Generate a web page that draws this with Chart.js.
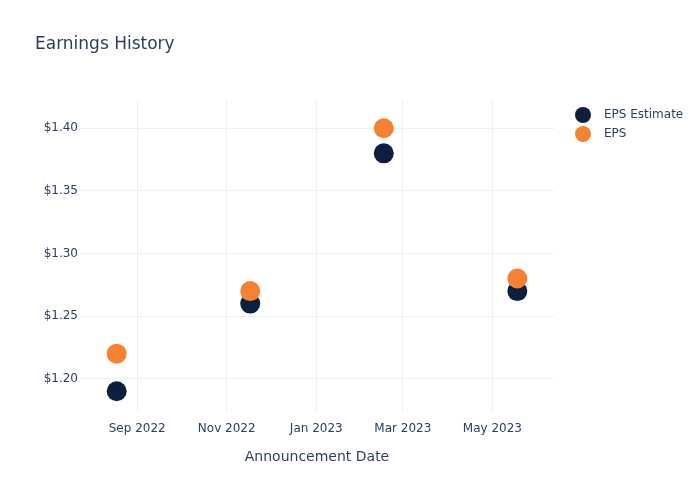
<!DOCTYPE html>
<html>
<head>
<meta charset="utf-8">
<title>Earnings History</title>
<script src="https://cdn.jsdelivr.net/npm/chart.js@4.4.1/dist/chart.umd.min.js"></script>
<style>
    body { margin: 0; background: #fff; }
    #wrap { width: 700px; height: 500px; }
</style>
</head>
<body>
<div id="wrap"><canvas id="earningsChart" width="700" height="500"></canvas></div>
<script>
// --- Données ---
const announceDates = ["2022-08-18", "2022-11-17", "2023-02-16", "2023-05-18"];
const epsEstimate = [1.19, 1.26, 1.38, 1.27];
const epsActual = [1.22, 1.27, 1.40, 1.28];
const xTickDates = ["2022-09-01", "2022-11-01", "2023-01-01", "2023-03-01", "2023-05-01"];
const yTickValues = [1.20, 1.25, 1.30, 1.35, 1.40];
const monthNames = ["Jan", "Feb", "Mar", "Apr", "May", "Jun", "Jul", "Aug", "Sep", "Oct", "Nov", "Dec"];

const textColor = '#2a3f5f';
const gridColor = '#ebf0f8';
const navy = '#0d1f3f';
const orange = '#f58233';
const fontFamily = '"DejaVu Sans", Verdana, sans-serif';

function toTime(s) {
    const [y, m, d] = s.split('-').map(Number);
    return Date.UTC(y, m - 1, d);
}

function formatMonth(t) {
    const d = new Date(t);
    return monthNames[d.getUTCMonth()] + ' ' + d.getUTCFullYear();
}

const estimatePoints = announceDates.map((d, i) => ({ x: toTime(d), y: epsEstimate[i] }));
const actualPoints = announceDates.map((d, i) => ({ x: toTime(d), y: epsActual[i] }));

// Titre + légende dessinés à la main (style plotly)
const decorPlugin = {
    id: 'decor',
    afterDraw(chart) {
        const ctx = chart.ctx;
        ctx.save();
        ctx.fillStyle = textColor;
        ctx.font = '17px ' + fontFamily;
        ctx.textBaseline = 'middle';
        ctx.textAlign = 'left';
        ctx.fillText('Earnings History', 35, 45);

        const items = [chart.data.datasets[1], chart.data.datasets[0]];
        ctx.font = '12px ' + fontFamily;
        items.forEach((ds, i) => {
            const y = 115 + i * 19;
            ctx.beginPath();
            ctx.arc(583, y, 8, 0, Math.PI * 2);
            ctx.fillStyle = ds.backgroundColor;
            ctx.fill();
            ctx.fillStyle = textColor;
            ctx.fillText(ds.label, 604, y);
        });
        ctx.restore();
    }
};

new Chart(document.getElementById('earningsChart').getContext('2d'), {
    type: 'scatter',
    data: {
        datasets: [
            {
                label: 'EPS',
                data: actualPoints,
                backgroundColor: orange,
                borderColor: orange,
                borderWidth: 0,
                pointRadius: 10,
                order: 1
            },
            {
                label: 'EPS Estimate',
                data: estimatePoints,
                backgroundColor: navy,
                borderColor: navy,
                borderWidth: 0,
                pointRadius: 10,
                order: 2
            }
        ]
    },
    options: {
        responsive: false,
        animation: false,
        layout: { padding: { left: 0, top: 100, right: 146, bottom: 0 } },
        plugins: {
            legend: { display: false },
            title: { display: false },
            tooltip: { enabled: false }
        },
        scales: {
            x: {
                type: 'linear',
                min: toTime('2022-07-24'),
                max: toTime('2023-06-12'),
                afterBuildTicks: scale => {
                    scale.ticks = xTickDates.map(d => ({ value: toTime(d) }));
                },
                afterFit: scale => { scale.height = 89; },
                grid: { color: gridColor, drawTicks: false },
                border: { display: false },
                ticks: {
                    color: textColor,
                    font: { family: fontFamily, size: 12 },
                    padding: 11,
                    maxRotation: 0,
                    callback: v => formatMonth(v)
                },
                title: {
                    display: true,
                    text: 'Announcement Date',
                    color: textColor,
                    font: { family: fontFamily, size: 14 },
                    padding: { top: 0, bottom: 34 }
                }
            },
            y: {
                min: 1.1742,
                max: 1.4226,
                afterBuildTicks: scale => {
                    scale.ticks = yTickValues.map(v => ({ value: v }));
                },
                afterFit: scale => { scale.width = 80; },
                grid: { color: gridColor, drawTicks: false },
                border: { display: false },
                ticks: {
                    color: textColor,
                    font: { family: fontFamily, size: 12 },
                    padding: 2,
                    callback: v => '$' + v.toFixed(2)
                }
            }
        }
    },
    plugins: [decorPlugin]
});
</script>
</body>
</html>
